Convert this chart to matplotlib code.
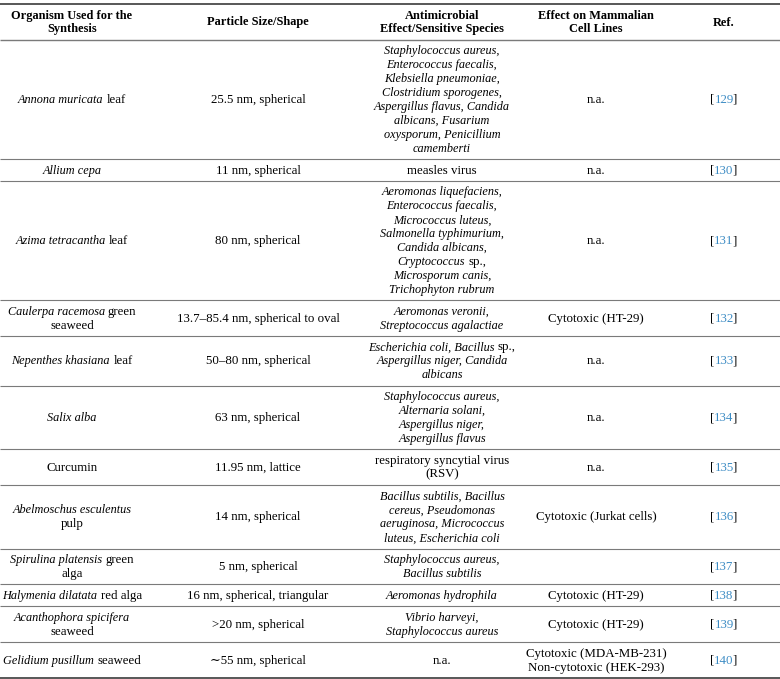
import matplotlib
matplotlib.use('Agg')
import matplotlib.pyplot as plt

FONT = ['Liberation Serif', 'DejaVu Serif']
SIZES = {'normal': 9.3, 'italic': 8.8, 'bold': 8.9}
LINE_H = 13.9
PAD = 8
REF_BLUE = '#3d8cc4'

headers = ['Organism Used for the\nSynthesis', 'Particle Size/Shape',
           'Antimicrobial\nEffect/Sensitive Species',
           'Effect on Mammalian\nCell Lines', 'Ref.']

organisms = ['*Annona muricata* leaf', '*Allium cepa*', '*Azima tetracantha* leaf',
             '*Caulerpa racemosa* green\nseaweed', '*Nepenthes khasiana* leaf',
             '*Salix alba*', 'Curcumin', '*Abelmoschus esculentus*\npulp',
             '*Spirulina platensis* green\nalga', '*Halymenia dilatata* red alga',
             '*Acanthophora spicifera*\nseaweed', '*Gelidium pusillum* seaweed']

sizes = ['25.5 nm, spherical', '11 nm, spherical', '80 nm, spherical',
         '13.7–85.4 nm, spherical to oval', '50–80 nm, spherical', '63 nm, spherical',
         '11.95 nm, lattice', '14 nm, spherical', '5 nm, spherical',
         '16 nm, spherical, triangular', '>20 nm, spherical', '∼55 nm, spherical']

effects = [
    '*Staphylococcus aureus,*\n*Enterococcus faecalis,*\n*Klebsiella pneumoniae,*\n'
    '*Clostridium sporogenes,*\n*Aspergillus flavus, Candida*\n*albicans, Fusarium*\n'
    '*oxysporum, Penicillium*\n*camemberti*',
    'measles virus',
    '*Aeromonas liquefaciens,*\n*Enterococcus faecalis,*\n*Micrococcus luteus,*\n'
    '*Salmonella typhimurium,*\n*Candida albicans,*\n*Cryptococcus* sp.,\n'
    '*Microsporum canis,*\n*Trichophyton rubrum*',
    '*Aeromonas veronii,*\n*Streptococcus agalactiae*',
    '*Escherichia coli, Bacillus* sp.,\n*Aspergillus niger, Candida*\n*albicans*',
    '*Staphylococcus aureus,*\n*Alternaria solani,*\n*Aspergillus niger,*\n*Aspergillus flavus*',
    'respiratory syncytial virus\n(RSV)',
    '*Bacillus subtilis, Bacillus*\n*cereus, Pseudomonas*\n*aeruginosa, Micrococcus*\n'
    '*luteus, Escherichia coli*',
    '*Staphylococcus aureus,*\n*Bacillus subtilis*',
    '*Aeromonas hydrophila*',
    '*Vibrio harveyi,*\n*Staphylococcus aureus*',
    'n.a.',
]

mammalian = ['n.a.', 'n.a.', 'n.a.', 'Cytotoxic (HT-29)', 'n.a.', 'n.a.', 'n.a.',
             'Cytotoxic (Jurkat cells)', '', 'Cytotoxic (HT-29)', 'Cytotoxic (HT-29)',
             'Cytotoxic (MDA-MB-231)\nNon-cytotoxic (HEK-293)']

refs = ['129', '130', '131', '132', '133', '134', '135', '136', '137', '138', '139', '140']

col_x = [72, 258, 442, 596, 724]

fig = plt.figure(figsize=(7.8, 6.79), dpi=100)
ax = fig.add_axes([0, 0, 1, 1])
ax.set_xlim(0, 780)
ax.set_ylim(679, 0)
ax.axis('off')
renderer = fig.canvas.get_renderer()


def font_kw(kind):
    return dict(fontsize=SIZES[kind], family=FONT,
                style='italic' if kind == 'italic' else 'normal',
                weight='bold' if kind == 'bold' else 'normal')


def text_width(s, kind):
    if not s:
        return 0
    t = ax.text(0, 0, s, **font_kw(kind))
    w = t.get_window_extent(renderer).width
    t.remove()
    return w


def parse(line, bold=False):
    # '*' toggles italic
    segs = []
    for i, piece in enumerate(line.split('*')):
        if piece:
            kind = 'bold' if bold else ('italic' if i % 2 else 'normal')
            segs.append((piece, kind))
    return segs


def draw_line(cx, y, segs):
    parts = []
    total = 0
    for s, kind in segs:
        sp = text_width('x x', kind) - text_width('xx', kind)
        core = s.strip(' ')
        total += (len(s) - len(s.lstrip(' '))) * sp
        parts.append((total, core, kind))
        total += text_width(core, kind) + (len(s) - len(s.rstrip(' '))) * sp
    x0 = cx - total / 2
    for off, core, kind in parts:
        ax.text(x0 + off, y, core, color='black', ha='left', va='baseline', **font_kw(kind))


def baselines(top, h, n):
    mid = top + h / 2
    return [mid + (i - (n - 1) / 2) * LINE_H + 3.6 for i in range(n)]


def draw_cell(cx, top, h, lines):
    for y, segs in zip(baselines(top, h, len(lines)), lines):
        draw_line(cx, y, segs)


def draw_ref(cx, top, h, num):
    y = baselines(top, h, 1)[0]
    t = ax.text(cx, y, num, color=REF_BLUE, ha='center', va='baseline', **font_kw('normal'))
    bb = t.get_window_extent(renderer)
    ax.text(cx - bb.width / 2 - 0.3, y, '[', color='black', ha='right', va='baseline',
            **font_kw('normal'))
    ax.text(cx + bb.width / 2 - 1.2, y, ']', color='black', ha='left', va='baseline',
            **font_kw('normal'))


# header
top = 4
ax.hlines(top, 0, 780, color='#4a4a4a', lw=1.3)
h = 2 * LINE_H + PAD
for cx, txt in zip(col_x, headers):
    draw_cell(cx, top, h, [parse(l, bold=True) for l in txt.split('\n')])
top += h
ax.hlines(top, 0, 780, color='#7a7a7a', lw=1.0)

# body rows
for k in range(len(organisms)):
    cells = [organisms[k], sizes[k], effects[k], mammalian[k]]
    cell_lines = [[parse(l) for l in c.split('\n')] for c in cells]
    n = max(len(c) for c in cell_lines)
    h = n * LINE_H + PAD
    for cx, lines in zip(col_x, cell_lines):
        draw_cell(cx, top, h, lines)
    draw_ref(col_x[4], top, h, refs[k])
    top += h
    last = k == len(organisms) - 1
    ax.hlines(top, 0, 780, color='#4a4a4a' if last else '#7a7a7a', lw=1.3 if last else 0.8)

fig.savefig('out.png', dpi=100)
